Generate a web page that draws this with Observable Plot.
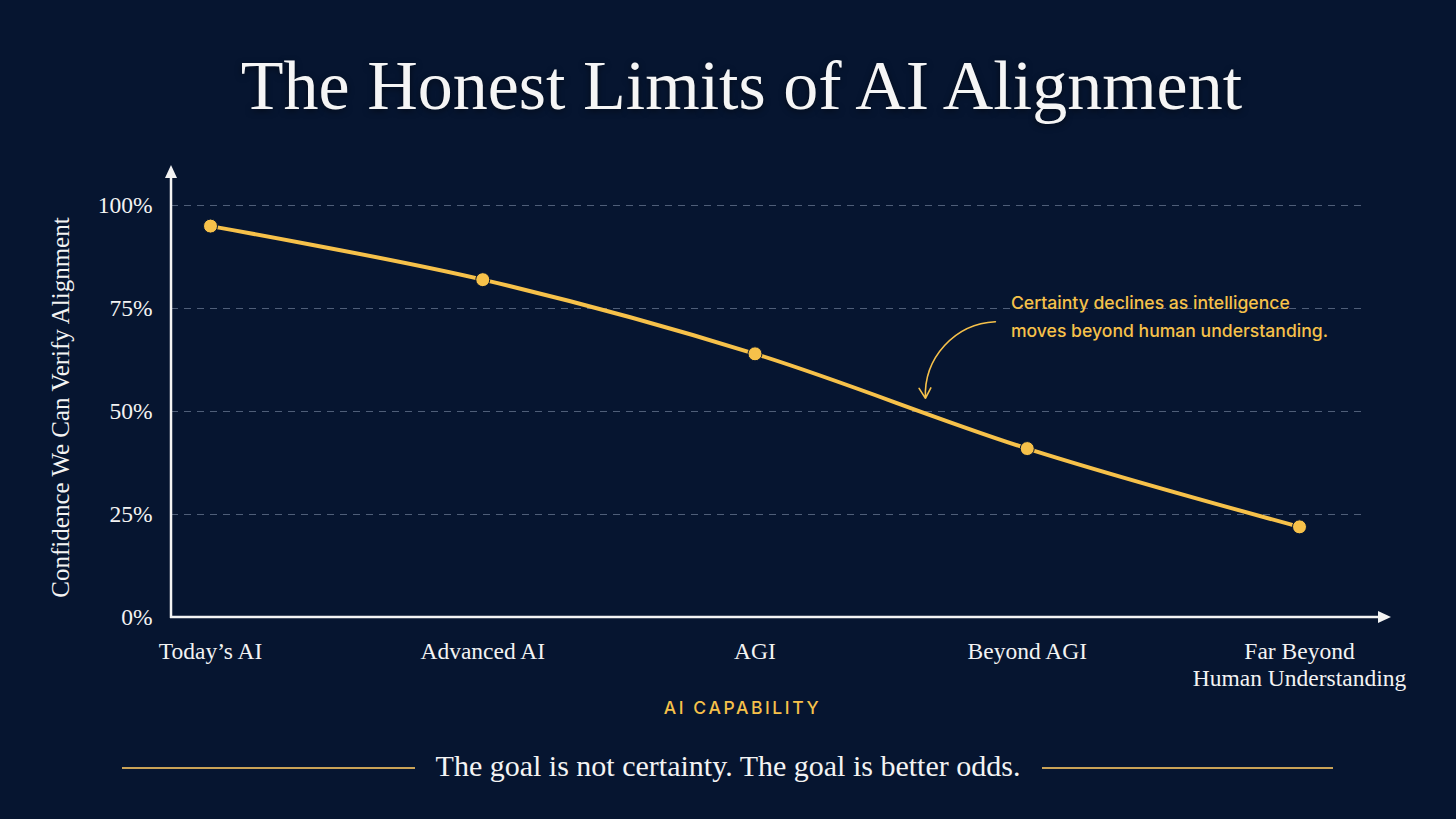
<!DOCTYPE html>
<html>
<head>
<meta charset="utf-8">
<script src="https://cdn.jsdelivr.net/npm/d3@7"></script>
<script src="https://cdn.jsdelivr.net/npm/@observablehq/plot@0.6"></script>
<style>
  html, body { margin: 0; padding: 0; }
  body {
    width: 1456px; height: 819px; overflow: hidden; position: relative;
    background: #061530;
    font-family: "Liberation Serif", "DejaVu Serif", serif;
    color: #f3f3f3;
  }
  #chart { position: absolute; left: 0; top: 0; }
  #title {
    position: absolute; left: 0; top: 51px; width: 1483px; text-align: center;
    font-size: 70px; line-height: 1; color: #f5f5f5; white-space: nowrap;
    text-shadow: 0 2px 6px rgba(0,0,0,0.5);
  }
  #footer {
    position: absolute; left: 0; top: 751px; width: 1456px; height: 32px;
  }
  #footer .rule { position: absolute; top: 16px; height: 1.5px; background: #c9a257; }
  #footer .text {
    position: absolute; left: 0; width: 1456px; text-align: center; top: 0;
    font-size: 30px; line-height: 1; color: #f3f3f3; white-space: nowrap;
  }
  .x-title text { letter-spacing: 2.6px; }
</style>
</head>
<body>
<div id="chart"></div>
<div id="title">The Honest Limits of AI Alignment</div>
<div id="footer">
  <div class="rule" style="left:122px;width:293px"></div>
  <div class="rule" style="left:1042px;width:291px"></div>
  <div class="text">The goal is not certainty. The goal is better odds.</div>
</div>
<script>
// Capability stages along the x axis
const stages = ["Today’s AI", "Advanced AI", "AGI", "Beyond AGI", "Far Beyond\nHuman Understanding"];
// Confidence (%) that alignment can be verified at each stage
const confidence = [95, 82, 64, 41, 22];
// Y axis ticks (%)
const yTicks = [0, 25, 50, 75, 100];
const gridTicks = [25, 50, 75, 100];

const yTitle = "Confidence We Can Verify Alignment";
const xTitle = "AI CAPABILITY";
const note = "Certainty declines as intelligence\nmoves beyond human understanding.";

const data = stages.map((stage, i) => ({i, stage, value: confidence[i]}));

const gold = "#f6c14a";
const white = "#f3f3f3";
const serif = "Liberation Serif, DejaVu Serif, serif";
const sans = "Inter, Lato, sans-serif";

// Axis lines with arrowheads, drawn from the plot's frame dimensions
function axisArrows(index, scales, values, dim) {
  const x0 = dim.marginLeft;
  const y0 = dim.height - dim.marginBottom;
  const g = d3.create("svg:g").attr("fill", white).attr("stroke", white);
  const yTip = dim.marginTop - 40;
  const xTip = dim.width - dim.marginRight + 24;
  g.append("line").attr("x1", x0).attr("x2", x0).attr("y1", y0 + 1).attr("y2", yTip + 10).attr("stroke-width", 2.5);
  g.append("path").attr("stroke", "none").attr("d", `M${x0},${yTip}L${x0 - 6},${yTip + 13}L${x0 + 6},${yTip + 13}Z`);
  g.append("line").attr("x1", x0 - 1).attr("x2", xTip - 10).attr("y1", y0).attr("y2", y0).attr("stroke-width", 2.5);
  g.append("path").attr("stroke", "none").attr("d", `M${xTip},${y0}L${xTip - 13},${y0 - 6}L${xTip - 13},${y0 + 6}Z`);
  return g.node();
}

const chart = Plot.plot({
  width: 1456,
  height: 819,
  marginTop: 205,
  marginBottom: 202,
  marginLeft: 171,
  marginRight: 89,
  style: {background: "transparent", color: white, fontFamily: serif},
  x: {domain: [0, 4], range: [210, 1299]},
  y: {domain: [0, 100]},
  marks: [
    Plot.ruleY(gridTicks, {stroke: "#4f5e78", strokeWidth: 1, strokeDasharray: "7,6"}),
    Plot.axisY({
      ticks: yTicks, tickFormat: d => d + "%", tickSize: 0, tickPadding: 19,
      fontSize: 23.5, fill: white, label: null
    }),
    Plot.axisX({
      ticks: [0, 1, 2, 3, 4], tickFormat: i => stages[i], tickSize: 0, tickPadding: 22,
      fontSize: 23.5, fill: white, label: null, lineHeight: 1.15
    }),
    Plot.text([yTitle], {
      frameAnchor: "left", textAnchor: "middle", dx: -111, dy: -4, rotate: -90,
      fontSize: 25, fill: white, fontFamily: serif
    }),
    Plot.text([xTitle], {
      frameAnchor: "bottom", dx: -27, dy: 96,
      fontSize: 17.5, fill: gold, fontFamily: sans, fontWeight: 500,
      className: "x-title"
    }),
    axisArrows,
    Plot.line(data, {x: "i", y: "value", stroke: gold, strokeWidth: 4, curve: "catmull-rom"}),
    Plot.dot(data, {x: "i", y: "value", r: 7, fill: gold, stroke: "#061530", strokeWidth: 1}),
    Plot.text([note], {
      x: 2.94, y: 73.6, textAnchor: "start", lineAnchor: "middle", lineHeight: 1.55,
      fontSize: 17.6, fill: gold, fontFamily: sans, fontWeight: 500
    }),
    Plot.arrow([0], {
      x1: 2.883, y1: 71.8, x2: 2.626, y2: 53.2, bend: -45,
      stroke: gold, strokeWidth: 1.6, headLength: 11
    })
  ]
});

document.getElementById("chart").append(chart);
</script>
</body>
</html>
